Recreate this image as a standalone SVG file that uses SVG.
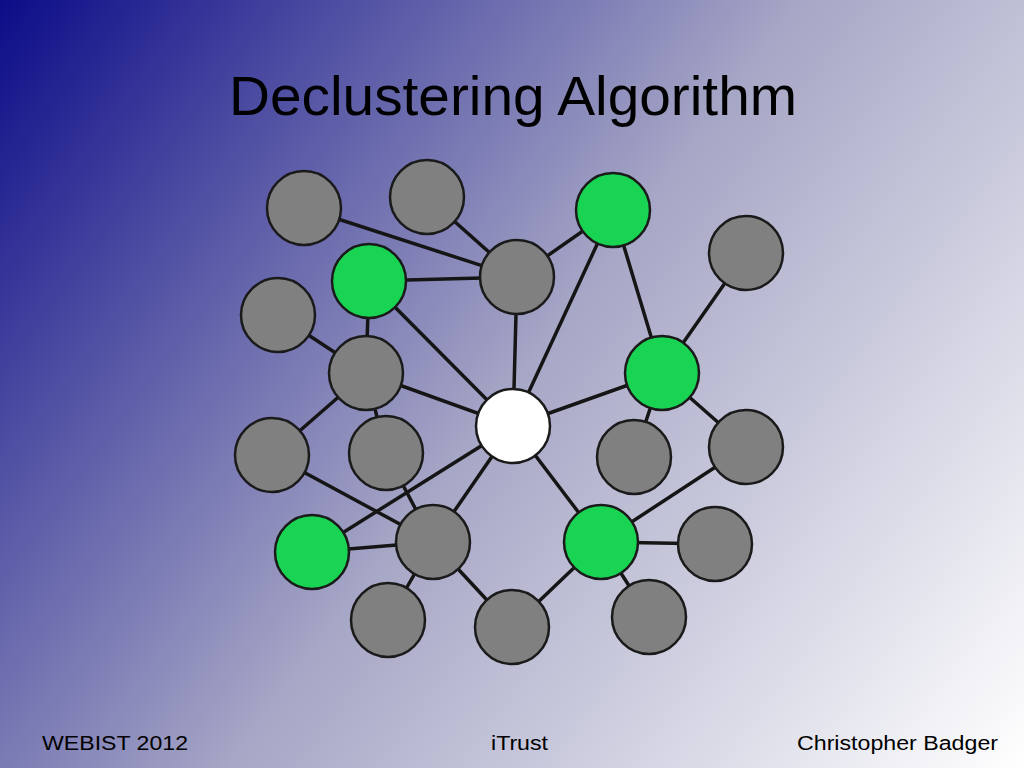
<svg xmlns="http://www.w3.org/2000/svg" width="1024" height="768" viewBox="0 0 1024 768">
<defs>
<linearGradient id="bg" gradientUnits="userSpaceOnUse" x1="0" y1="0" x2="1024" y2="768">
<stop offset="0" stop-color="#0c0c88"/>
<stop offset="0.5" stop-color="#a6a6c6"/>
<stop offset="1" stop-color="#ffffff"/>
</linearGradient>
<style>
.e{stroke:#151515;stroke-width:3.5;fill:none;stroke-linecap:round}
.n{stroke:#1a1a1a;stroke-width:2.5}
.g{fill:#808080}
.gr{fill:#19d352}
.w{fill:#ffffff}
.t{font-family:"Liberation Sans",Arial,sans-serif;fill:#000}
</style>
</defs>
<rect width="1024" height="768" fill="url(#bg)"/>
<text class="t" x="513" y="115" font-size="56" text-anchor="middle" textLength="568" lengthAdjust="spacingAndGlyphs">Declustering Algorithm</text>
<g id="connectors">
<line class="e" x1="304" y1="208" x2="517" y2="277"/>
<line class="e" x1="427" y1="197" x2="517" y2="277"/>
<line class="e" x1="369" y1="281" x2="517" y2="277"/>
<line class="e" x1="613" y1="210" x2="517" y2="277"/>
<line class="e" x1="613" y1="210" x2="662" y2="373"/>
<line class="e" x1="613" y1="210" x2="513" y2="426"/>
<line class="e" x1="746" y1="253" x2="662" y2="373"/>
<line class="e" x1="369" y1="281" x2="366" y2="373"/>
<line class="e" x1="369" y1="281" x2="513" y2="426"/>
<line class="e" x1="517" y1="277" x2="513" y2="426"/>
<line class="e" x1="278" y1="315" x2="366" y2="373"/>
<line class="e" x1="366" y1="373" x2="272" y2="455"/>
<line class="e" x1="366" y1="373" x2="386" y2="453"/>
<line class="e" x1="366" y1="373" x2="513" y2="426"/>
<line class="e" x1="662" y1="373" x2="513" y2="426"/>
<line class="e" x1="662" y1="373" x2="634" y2="457"/>
<line class="e" x1="662" y1="373" x2="746" y2="447"/>
<line class="e" x1="513" y1="426" x2="312" y2="552"/>
<line class="e" x1="513" y1="426" x2="433" y2="542"/>
<line class="e" x1="513" y1="426" x2="601" y2="542"/>
<line class="e" x1="272" y1="455" x2="433" y2="542"/>
<line class="e" x1="386" y1="453" x2="433" y2="542"/>
<line class="e" x1="312" y1="552" x2="433" y2="542"/>
<line class="e" x1="433" y1="542" x2="388" y2="620"/>
<line class="e" x1="433" y1="542" x2="512" y2="627"/>
<line class="e" x1="601" y1="542" x2="512" y2="627"/>
<line class="e" x1="601" y1="542" x2="746" y2="447"/>
<line class="e" x1="601" y1="542" x2="715" y2="544"/>
<line class="e" x1="601" y1="542" x2="649" y2="617"/>
</g>
<g id="nA"><circle class="n g" cx="304" cy="208" r="37"/></g>
<g id="nB"><circle class="n g" cx="427" cy="197" r="37"/></g>
<g id="nC"><circle class="n gr" cx="613" cy="210" r="37"/></g>
<g id="nD"><circle class="n g" cx="746" cy="253" r="37"/></g>
<g id="nE"><circle class="n gr" cx="369" cy="281" r="37"/></g>
<g id="nF"><circle class="n g" cx="517" cy="277" r="37"/></g>
<g id="nG"><circle class="n g" cx="278" cy="315" r="37"/></g>
<g id="nH"><circle class="n g" cx="366" cy="373" r="37"/></g>
<g id="nI"><circle class="n gr" cx="662" cy="373" r="37"/></g>
<g id="nJ"><circle class="n w" cx="513" cy="426" r="37"/></g>
<g id="nK"><circle class="n g" cx="272" cy="455" r="37"/></g>
<g id="nL"><circle class="n g" cx="386" cy="453" r="37"/></g>
<g id="nM"><circle class="n g" cx="634" cy="457" r="37"/></g>
<g id="nN"><circle class="n g" cx="746" cy="447" r="37"/></g>
<g id="nO"><circle class="n gr" cx="312" cy="552" r="37"/></g>
<g id="nP"><circle class="n g" cx="433" cy="542" r="37"/></g>
<g id="nQ"><circle class="n gr" cx="601" cy="542" r="37"/></g>
<g id="nR"><circle class="n g" cx="715" cy="544" r="37"/></g>
<g id="nS"><circle class="n g" cx="388" cy="620" r="37"/></g>
<g id="nT"><circle class="n g" cx="512" cy="627" r="37"/></g>
<g id="nU"><circle class="n g" cx="649" cy="617" r="37"/></g>
<text class="t" x="42" y="750" font-size="20" textLength="146" lengthAdjust="spacingAndGlyphs">WEBIST 2012</text>
<text class="t" x="519.5" y="750" font-size="20" text-anchor="middle" textLength="57" lengthAdjust="spacingAndGlyphs">iTrust</text>
<text class="t" x="998" y="750" font-size="20" text-anchor="end" textLength="201" lengthAdjust="spacingAndGlyphs">Christopher Badger</text>
</svg>
